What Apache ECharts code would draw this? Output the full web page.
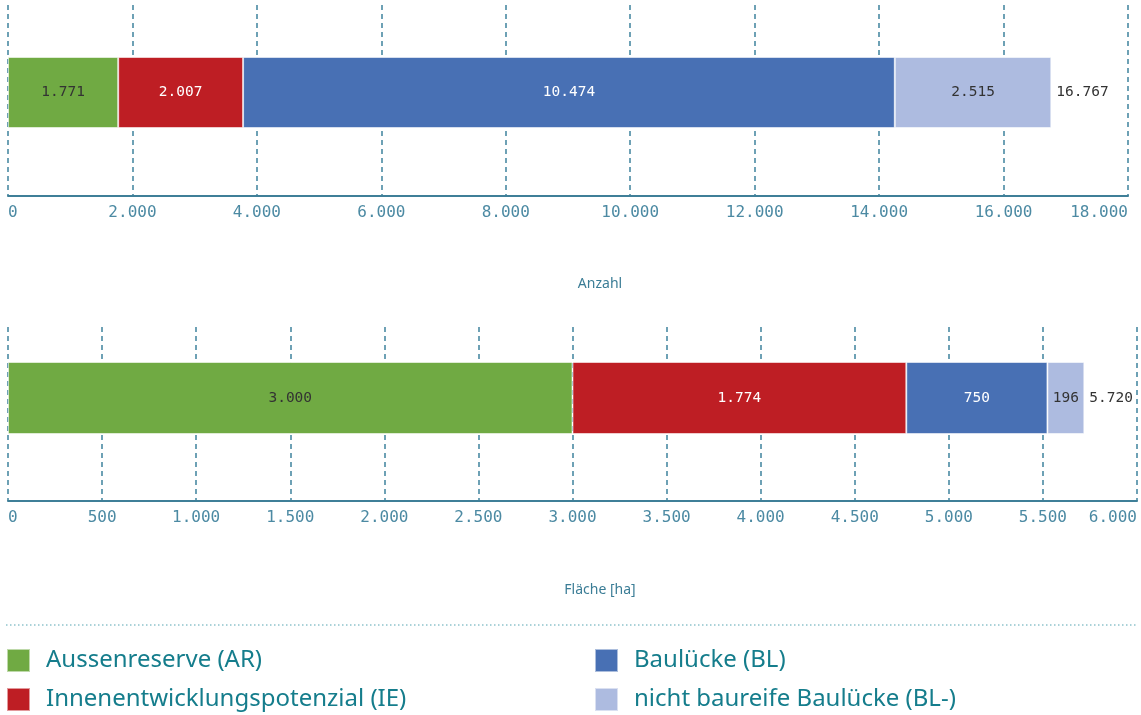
<!DOCTYPE html>
<html>
<head>
<meta charset="utf-8">
<script src="https://cdn.jsdelivr.net/npm/echarts@6/dist/echarts.min.js"></script>
<style>
  html, body { margin: 0; padding: 0; background: #fff; }
  #chart { width: 1141px; height: 715px; }
</style>
</head>
<body>
<div id="chart"></div>
<script>
// Flächenpotenziale nach Typ: Anzahl und Fläche
const categories = ['Aussenreserve (AR)', 'Innenentwicklungspotenzial (IE)', 'Baulücke (BL)', 'nicht baureife Baulücke (BL-)'];
const anzahlValues = [1771, 2007, 10474, 2515];
const flaecheValues = [3000, 1774, 750, 196];
const anzahlTicks = { min: 0, max: 18000, interval: 2000 };
const flaecheTicks = { min: 0, max: 6000, interval: 500 };
const axisTitles = ['Anzahl', 'Fläche [ha]'];

const colors = ['#70aa43', '#be1e24', '#4870b4', '#adbbe0'];
const labelColors = ['#333333', '#ffffff', '#ffffff', '#333333'];
const teal = '#3f7f98';
const mono = '"DejaVu Sans Mono", "Liberation Mono", monospace';

function fmt(v) {
  return String(Math.round(v)).replace(/\B(?=(\d{3})+(?!\d))/g, '.');
}
function sum(arr) { return arr.reduce((a, b) => a + b, 0); }

function axisFrame(gridIndex, ticks) {
  return {
    type: 'value', gridIndex: gridIndex,
    min: ticks.min, max: ticks.max, interval: ticks.interval,
    axisLine: { show: true, lineStyle: { color: teal, width: 2 } },
    axisTick: { show: false },
    splitLine: { show: true, lineStyle: { color: '#4a8aa3', width: 1.6, type: [5, 4] } },
    axisLabel: {
      color: '#4c8aa3', fontFamily: mono, fontSize: 16, margin: 9,
      alignMinLabel: 'left', alignMaxLabel: 'right',
      formatter: fmt
    }
  };
}
function hiddenX(gridIndex, ticks) {
  return { type: 'value', gridIndex: gridIndex, min: ticks.min, max: ticks.max, show: false, splitLine: { show: false } };
}
function hiddenY(gridIndex) {
  return { type: 'category', gridIndex: gridIndex, data: [''], show: false, boundaryGap: true };
}

function barSeries(values, axisIndex, stackName) {
  const list = values.map((v, i) => ({
    name: categories[i],
    type: 'bar',
    stack: stackName,
    xAxisIndex: axisIndex, yAxisIndex: axisIndex,
    barWidth: '100%',
    data: [v],
    itemStyle: { color: colors[i], borderColor: 'rgba(255,255,255,0.55)', borderWidth: 1 },
    label: {
      show: true, position: 'inside',
      color: labelColors[i], fontFamily: mono, fontSize: 14.5,
      formatter: p => fmt(p.value)
    },
    emphasis: { disabled: true }
  }));
  // zero-length segment at the end of the stack carrying the total
  const total = sum(values);
  list.push({
    name: 'Summe',
    type: 'bar', stack: stackName,
    xAxisIndex: axisIndex, yAxisIndex: axisIndex,
    barWidth: '100%',
    data: [0],
    itemStyle: { color: 'transparent' },
    label: {
      show: true, position: 'right', distance: 5,
      color: '#333333', fontFamily: mono, fontSize: 14.5,
      formatter: () => fmt(total)
    },
    emphasis: { disabled: true }
  });
  return list;
}

const legendText = { color: '#157d8c', fontFamily: '"Noto Sans", sans-serif', fontSize: 24, lineHeight: 23, padding: [0, 0, 0, 11] };

const option = {
  animation: false,
  backgroundColor: '#ffffff',
  color: colors,
  grid: [
    { left: 8, right: 13, top: 5, height: 191 },
    { left: 8, right: 13, top: 57, height: 71 },
    { left: 8, right: 4, top: 327, height: 174 },
    { left: 8, right: 4, top: 362, height: 72 }
  ],
  xAxis: [
    axisFrame(0, anzahlTicks),
    hiddenX(1, anzahlTicks),
    axisFrame(2, flaecheTicks),
    hiddenX(3, flaecheTicks)
  ],
  yAxis: [hiddenY(0), hiddenY(1), hiddenY(2), hiddenY(3)],
  legend: [
    {
      data: categories.slice(0, 2), orient: 'vertical', left: 6, top: 648,
      icon: 'rect', itemWidth: 23, itemHeight: 23, itemGap: 14,
      selectedMode: false, textStyle: legendText, padding: 0
    },
    {
      data: categories.slice(2, 4), orient: 'vertical', left: 594, top: 648,
      icon: 'rect', itemWidth: 23, itemHeight: 23, itemGap: 14,
      selectedMode: false, textStyle: legendText, padding: 0
    }
  ],
  graphic: [
    {
      type: 'text', x: 600, y: 284,
      style: { text: axisTitles[0], fill: '#3b7d96', font: '14px "Noto Sans", sans-serif', align: 'center', verticalAlign: 'middle', textAlign: 'center', textVerticalAlign: 'middle' }
    },
    {
      type: 'text', x: 600, y: 590,
      style: { text: axisTitles[1], fill: '#3b7d96', font: '14px "Noto Sans", sans-serif', align: 'center', verticalAlign: 'middle', textAlign: 'center', textVerticalAlign: 'middle' }
    },
    {
      type: 'line',
      shape: { x1: 6, y1: 625, x2: 1138, y2: 625 },
      style: { stroke: '#8fc3cc', lineWidth: 1.5, lineDash: [1.5, 2.5] }
    }
  ],
  series: [].concat(
    barSeries(anzahlValues, 1, 'anzahl'),
    barSeries(flaecheValues, 3, 'flaeche')
  )
};

echarts.init(document.getElementById('chart')).setOption(option);
</script>
</body>
</html>
